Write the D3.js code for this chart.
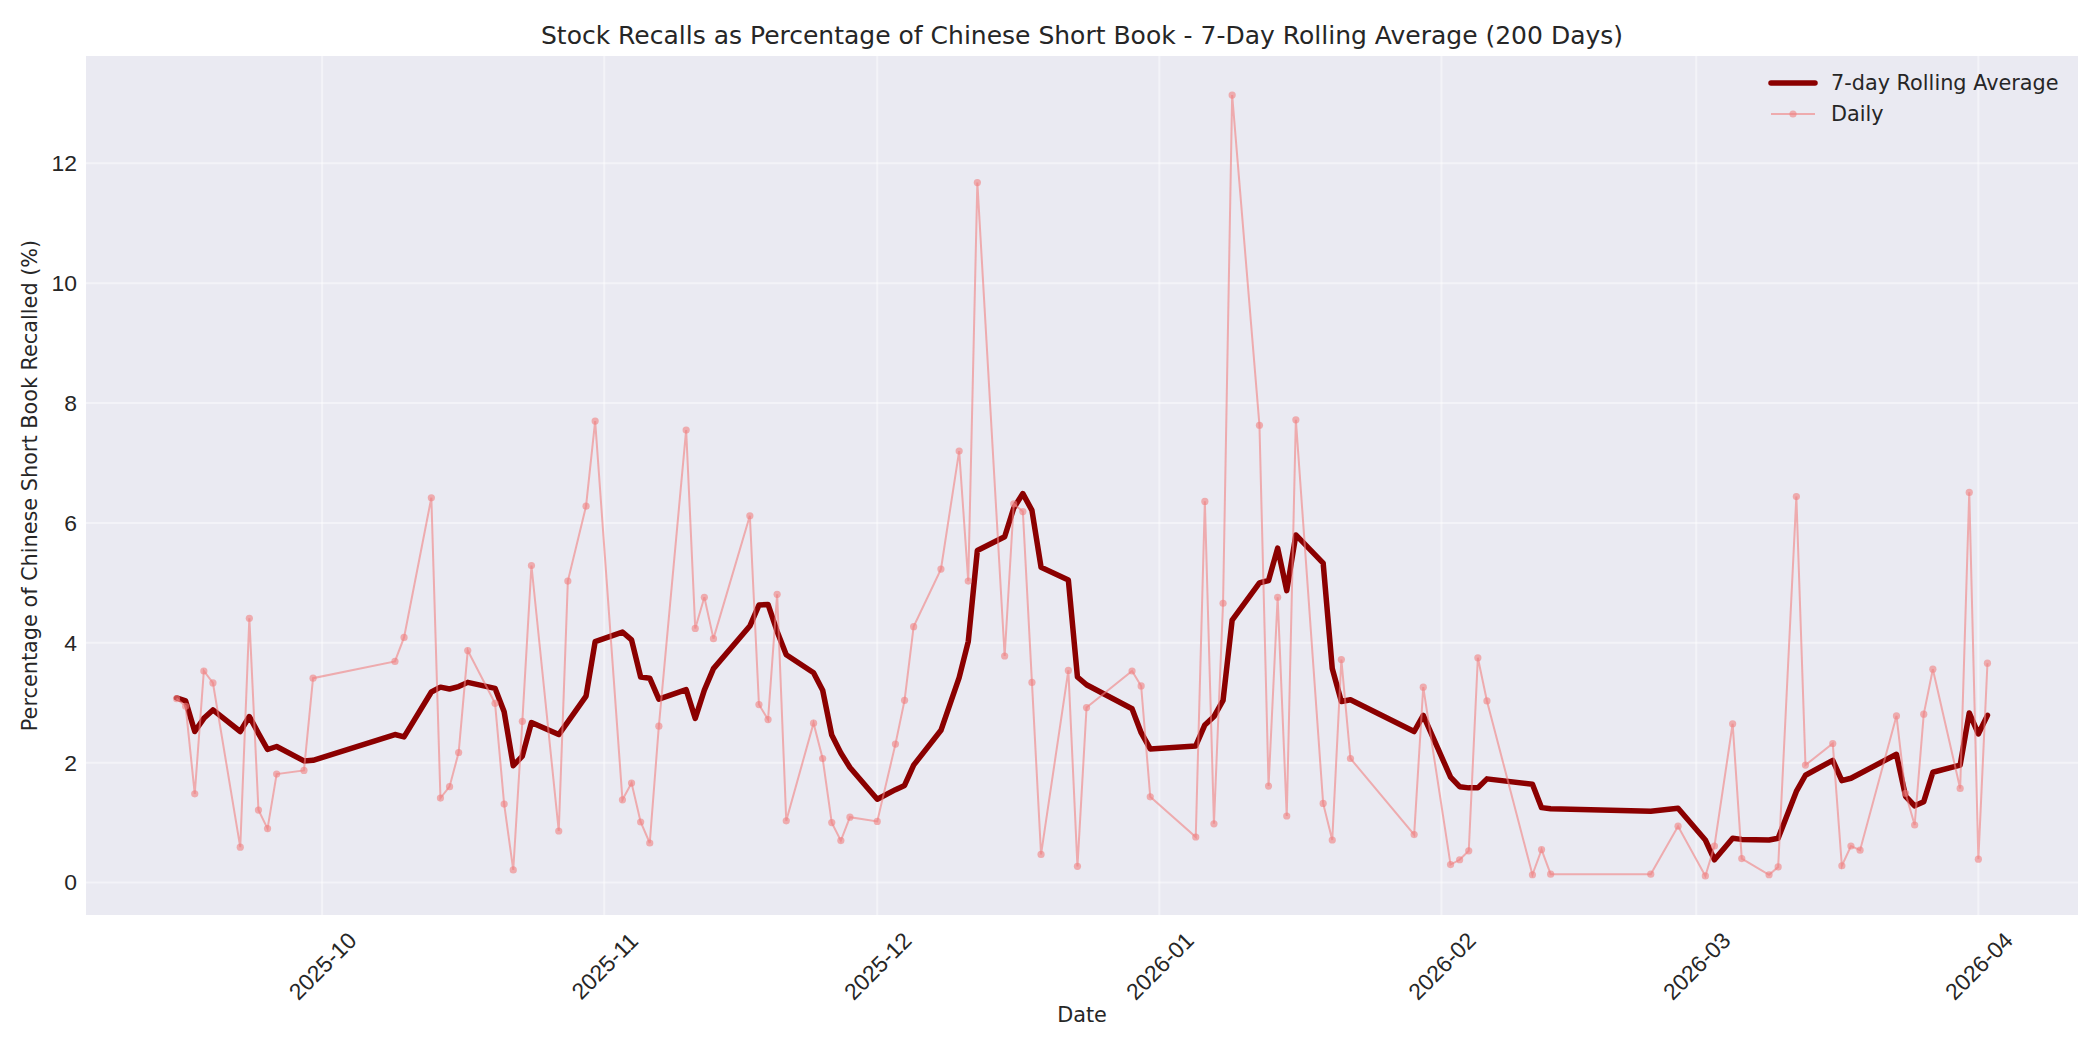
<!DOCTYPE html>
<html>
<head>
<meta charset="utf-8">
<script src="https://cdn.jsdelivr.net/npm/d3@7"></script>
<style>
  html, body { margin: 0; padding: 0; background: #ffffff; }
  svg { display: block; font-family: "DejaVu Sans", sans-serif; }
</style>
</head>
<body>
<div id="chart"></div>
<script>
// 日付（日次データとローリング平均は同じ日付）
const dates = [
  "2025-09-15","2025-09-16","2025-09-17","2025-09-18","2025-09-19",
  "2025-09-22","2025-09-23","2025-09-24","2025-09-25","2025-09-26",
  "2025-09-29","2025-09-30","2025-10-09","2025-10-10","2025-10-13",
  "2025-10-14","2025-10-15","2025-10-16","2025-10-17","2025-10-20",
  "2025-10-21","2025-10-22","2025-10-23","2025-10-24","2025-10-27",
  "2025-10-28","2025-10-30","2025-10-31","2025-11-03","2025-11-04",
  "2025-11-05","2025-11-06","2025-11-07","2025-11-10","2025-11-11",
  "2025-11-12","2025-11-13","2025-11-17","2025-11-18","2025-11-19",
  "2025-11-20","2025-11-21","2025-11-24","2025-11-25","2025-11-26",
  "2025-11-27","2025-11-28","2025-12-01","2025-12-03","2025-12-04",
  "2025-12-05","2025-12-08","2025-12-10","2025-12-11","2025-12-12",
  "2025-12-15","2025-12-16","2025-12-17","2025-12-18","2025-12-19",
  "2025-12-22","2025-12-23","2025-12-24","2025-12-29","2025-12-30",
  "2025-12-31","2026-01-05","2026-01-06","2026-01-07","2026-01-08",
  "2026-01-09","2026-01-12","2026-01-13","2026-01-14","2026-01-15",
  "2026-01-16","2026-01-19","2026-01-20","2026-01-21","2026-01-22",
  "2026-01-29","2026-01-30","2026-02-02","2026-02-03","2026-02-04",
  "2026-02-05","2026-02-06","2026-02-11","2026-02-12","2026-02-13",
  "2026-02-24","2026-02-27","2026-03-02","2026-03-03","2026-03-05",
  "2026-03-06","2026-03-09","2026-03-10","2026-03-12","2026-03-13",
  "2026-03-16","2026-03-17","2026-03-18","2026-03-19","2026-03-23",
  "2026-03-24","2026-03-25","2026-03-26","2026-03-27","2026-03-30",
  "2026-03-31","2026-04-01","2026-04-02"
];

// 日次の値（%）
const dailyValues = [
  3.07, 2.94, 1.48, 3.53, 3.33,
  0.59, 4.41, 1.21, 0.90, 1.81,
  1.87, 3.41, 3.69, 4.09, 6.42,
  1.41, 1.60, 2.17, 3.87, 2.99,
  1.31, 0.21, 2.69, 5.29, 0.86,
  5.03, 6.28, 7.70, 1.38, 1.66,
  1.01, 0.66, 2.61, 7.55, 4.24,
  4.76, 4.07, 6.12, 2.97, 2.72,
  4.81, 1.03, 2.66, 2.07, 1.00,
  0.70, 1.09, 1.02, 2.31, 3.04,
  4.27, 5.23, 7.20, 5.03, 11.68,
  3.78, 6.32, 6.19, 3.34, 0.47,
  3.54, 0.27, 2.92, 3.53, 3.28,
  1.43, 0.76, 6.36, 0.98, 4.66,
  13.14, 7.63, 1.61, 4.76, 1.11,
  7.72, 1.32, 0.71, 3.72, 2.07,
  0.80, 3.26, 0.30, 0.38, 0.53,
  3.75, 3.03, 0.13, 0.55, 0.14,
  0.14, 0.94, 0.11, 0.61, 2.65,
  0.40, 0.13, 0.26, 6.44, 1.96,
  2.32, 0.28, 0.61, 0.54, 2.78,
  1.49, 0.96, 2.81, 3.56, 1.57,
  6.51, 0.39, 3.66
];

// 7日ローリング平均（%）
const rollingValues = [
  3.08, 3.03, 2.52, 2.74, 2.88,
  2.52, 2.77, 2.49, 2.22, 2.27,
  2.03, 2.04, 2.47, 2.43, 3.18,
  3.26, 3.23, 3.27, 3.34, 3.24,
  2.85, 1.95, 2.11, 2.67, 2.47,
  2.68, 3.11, 4.02, 4.18, 4.05,
  3.43, 3.41, 3.06, 3.22, 2.74,
  3.21, 3.57, 4.28, 4.63, 4.64,
  4.19, 3.80, 3.50, 3.21, 2.46,
  2.16, 1.92, 1.39, 1.55, 1.62,
  1.96, 2.54, 3.42, 4.02, 5.54,
  5.77, 6.25, 6.49, 6.21, 5.26,
  5.05, 3.43, 3.30, 2.90, 2.50,
  2.23, 2.28, 2.63, 2.77, 3.04,
  4.38, 5.00, 5.04, 5.58, 4.87,
  5.80, 5.33, 3.57, 3.02, 3.05,
  2.52, 2.79, 1.76, 1.60, 1.58,
  1.58, 1.73, 1.64, 1.25, 1.23,
  1.19, 1.24, 0.71, 0.38, 0.74,
  0.72, 0.71, 0.74, 1.52, 1.79,
  2.04, 1.70, 1.74, 1.82, 2.14,
  1.44, 1.28, 1.35, 1.84, 1.96,
  2.83, 2.48, 2.79
];

// Y軸の目盛り
const yTicks = [0, 2, 4, 6, 8, 10, 12];

// 凡例のラベル
const legendLabels = ["7-day Rolling Average", "Daily"];

document.addEventListener('DOMContentLoaded', function() {
    drawChart();
});

function drawChart() {
    const width = 2100;
    const height = 1050;
    // 描画領域の余白
    const margin = { top: 56, right: 22, bottom: 135, left: 86 };
    const innerBottom = height - margin.bottom;
    const innerRight = width - margin.right;

    const parse = d3.utcParse('%Y-%m-%d');
    const data = dates.map((d, i) => ({
        date: parse(d),
        daily: dailyValues[i],
        rolling: rollingValues[i]
    }));

    const svg = d3.select('#chart')
        .append('svg')
        .attr('width', width)
        .attr('height', height);

    // 背景（seaborn darkgrid風）
    svg.append('rect')
        .attr('x', margin.left)
        .attr('y', margin.top)
        .attr('width', innerRight - margin.left)
        .attr('height', innerBottom - margin.top)
        .attr('fill', '#eaeaf2');

    // X軸スケール（前後に5%の余白）
    const xExtent = d3.extent(data, d => d.date);
    const xPad = (xExtent[1] - xExtent[0]) * 0.05;
    const x = d3.scaleUtc()
        .domain([new Date(+xExtent[0] - xPad), new Date(+xExtent[1] + xPad)])
        .range([margin.left, innerRight]);

    // Y軸スケール（上下に5%の余白）
    const allVals = dailyValues.concat(rollingValues);
    const yMin = d3.min(allVals), yMax = d3.max(allVals);
    const yPad = (yMax - yMin) * 0.05;
    const y = d3.scaleLinear()
        .domain([yMin - yPad, yMax + yPad])
        .range([innerBottom, margin.top]);

    const monthTicks = x.ticks(d3.utcMonth.every(1));

    // グリッド線
    const grid = svg.append('g')
        .attr('stroke', '#ffffff')
        .attr('stroke-opacity', 0.45)
        .attr('stroke-width', 2);
    grid.selectAll('line.v')
        .data(monthTicks)
        .enter()
        .append('line')
        .attr('x1', d => x(d)).attr('x2', d => x(d))
        .attr('y1', margin.top).attr('y2', innerBottom);
    grid.selectAll('line.h')
        .data(yTicks)
        .enter()
        .append('line')
        .attr('x1', margin.left).attr('x2', innerRight)
        .attr('y1', d => y(d)).attr('y2', d => y(d));

    // X軸
    const xAxis = svg.append('g')
        .attr('transform', `translate(0,${innerBottom})`)
        .call(d3.axisBottom(x)
            .tickValues(monthTicks)
            .tickFormat(d3.utcFormat('%Y-%m'))
            .tickSize(0)
            .tickPadding(0));
    xAxis.select('.domain').remove();
    xAxis.selectAll('text')
        .attr('font-size', '22.9px')
        .attr('fill', '#262626')
        .attr('text-anchor', 'middle')
        .attr('dominant-baseline', 'central')
        .attr('dy', null)
        .attr('y', 0)
        .attr('transform', 'translate(0,51) rotate(-45)');

    // Y軸
    const yAxis = svg.append('g')
        .attr('transform', `translate(${margin.left},0)`)
        .call(d3.axisLeft(y)
            .tickValues(yTicks)
            .tickFormat(d3.format('d'))
            .tickSize(0)
            .tickPadding(9));
    yAxis.select('.domain').remove();
    yAxis.selectAll('text')
        .attr('font-size', '22.9px')
        .attr('fill', '#262626');

    // 7日ローリング平均の線
    const rollingLine = d3.line()
        .x(d => x(d.date))
        .y(d => y(d.rolling));
    svg.append('path')
        .datum(data)
        .attr('d', rollingLine)
        .attr('fill', 'none')
        .attr('stroke', '#8b0000')
        .attr('stroke-width', 5.5)
        .attr('stroke-linejoin', 'round')
        .attr('stroke-linecap', 'round');

    // 日次データの線と点
    const dailyLine = d3.line()
        .x(d => x(d.date))
        .y(d => y(d.daily));
    svg.append('path')
        .datum(data)
        .attr('d', dailyLine)
        .attr('fill', 'none')
        .attr('stroke', '#f08080')
        .attr('stroke-opacity', 0.6)
        .attr('stroke-width', 2);
    svg.append('g')
        .selectAll('circle')
        .data(data)
        .enter()
        .append('circle')
        .attr('cx', d => x(d.date))
        .attr('cy', d => y(d.daily))
        .attr('r', 3.6)
        .attr('fill', '#f08080')
        .attr('fill-opacity', 0.6);

    // タイトル
    svg.append('text')
        .attr('x', (margin.left + innerRight) / 2)
        .attr('y', 43.5)
        .attr('text-anchor', 'middle')
        .attr('font-size', '25px')
        .attr('fill', '#262626')
        .text('Stock Recalls as Percentage of Chinese Short Book - 7-Day Rolling Average (200 Days)');

    // 軸ラベル
    svg.append('text')
        .attr('x', (margin.left + innerRight) / 2)
        .attr('y', 1022)
        .attr('text-anchor', 'middle')
        .attr('font-size', '20.8px')
        .attr('fill', '#262626')
        .text('Date');
    svg.append('text')
        .attr('transform', `translate(30,${(margin.top + innerBottom) / 2}) rotate(-90)`)
        .attr('text-anchor', 'middle')
        .attr('dominant-baseline', 'central')
        .attr('font-size', '20.8px')
        .attr('fill', '#262626')
        .text('Percentage of Chinese Short Book Recalled (%)');

    // 凡例
    const legend = svg.append('g');
    legend.append('line')
        .attr('x1', 1771).attr('x2', 1815)
        .attr('y1', 83).attr('y2', 83)
        .attr('stroke', '#8b0000')
        .attr('stroke-width', 5.5)
        .attr('stroke-linecap', 'round');
    legend.append('line')
        .attr('x1', 1771).attr('x2', 1815)
        .attr('y1', 114).attr('y2', 114)
        .attr('stroke', '#f08080')
        .attr('stroke-opacity', 0.6)
        .attr('stroke-width', 2);
    legend.append('circle')
        .attr('cx', 1793).attr('cy', 114)
        .attr('r', 3.6)
        .attr('fill', '#f08080')
        .attr('fill-opacity', 0.6);
    legend.selectAll('text')
        .data(legendLabels)
        .enter()
        .append('text')
        .attr('x', 1831)
        .attr('y', (d, i) => 83 + i * 31)
        .attr('dominant-baseline', 'central')
        .attr('font-size', '20.8px')
        .attr('fill', '#262626')
        .text(d => d);
}
</script>
</body>
</html>
